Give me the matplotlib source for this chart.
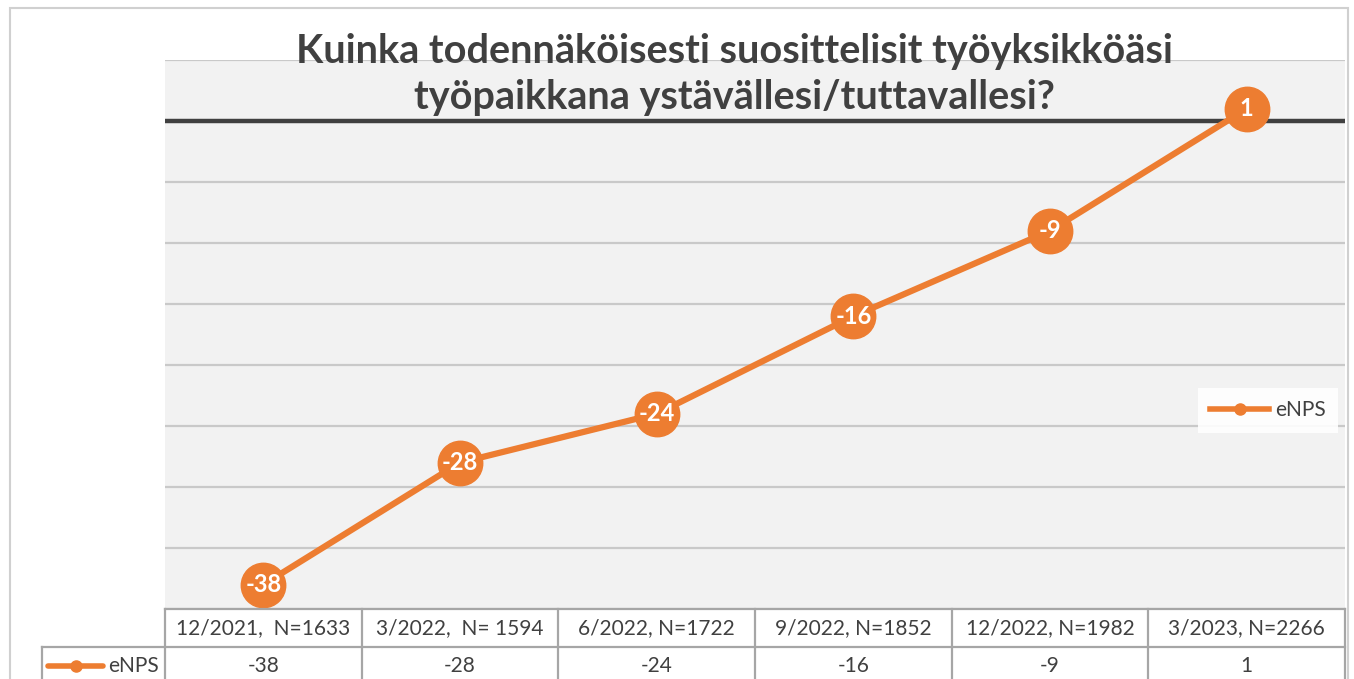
import matplotlib
matplotlib.use("Agg")
import matplotlib.pyplot as plt
from matplotlib.lines import Line2D
from matplotlib.patches import Rectangle

categories = ["12/2021,  N=1633", "3/2022,  N= 1594", "6/2022, N=1722",
              "9/2022, N=1852", "12/2022, N=1982", "3/2023, N=2266"]
enps = [-38, -28, -24, -16, -9, 1]
series_name = "eNPS"
title = "Kuinka todennäköisesti suosittelisit työyksikköäsi\ntyöpaikkana ystävällesi/tuttavallesi?"

W, H = 1354, 679
orange = "#ED7D31"
dark = "#404040"
grid_c = "#c9c9c9"
table_c = "#a6a6a6"

plt.rcParams['font.family'] = ['Lato', 'DejaVu Sans']

fig = plt.figure(figsize=(W / 100, H / 100), dpi=100)
fig.patch.set_facecolor("white")


def rect(x0, y0, x1, y1):
    # pixel box (top-left origin) -> figure fraction
    return [x0 / W, 1 - y1 / H, (x1 - x0) / W, (y1 - y0) / H]


# chart border
fig.patches.append(Rectangle((10 / W, -0.1), (1348 - 10) / W, 1 - 8 / H + 0.1,
                             transform=fig.transFigure, fill=False,
                             edgecolor="#d0d0d0", lw=1.5))

ax = fig.add_axes(rect(165, 60, 1345, 609))
ax.set_facecolor("#f2f2f2")
x = list(range(len(categories)))
ax.set_xlim(-0.5, len(categories) - 0.5)
ax.set_ylim(-40, 5)
ax.set_yticks(range(-40, 6, 5))
ax.set_xticks([])
ax.tick_params(left=False, labelleft=False)
ax.grid(axis="y", color=grid_c, lw=1.6)
ax.set_axisbelow(True)
for s in ax.spines.values():
    s.set_visible(False)
ax.axhline(0, color=dark, lw=3.2, zorder=1.5)

ax.plot(x, enps, color=orange, lw=4.5, marker="o", ms=32, zorder=3, clip_on=False)
for i, v in zip(x, enps):
    ax.text(i, v, str(v), ha="center", va="center", color="white",
            fontsize=17, fontweight="bold", zorder=4)

handle = Line2D([], [], color=orange, lw=4, marker="o", ms=8)
leg = ax.legend([handle], [series_name], loc="center",
                bbox_to_anchor=(1268 / W, 1 - 410 / H), bbox_transform=fig.transFigure,
                frameon=True, fancybox=False, framealpha=0.9, edgecolor="none",
                fontsize=15, handlelength=2.8, handletextpad=0.3,
                labelcolor=dark, borderpad=0.6)

fig.text(734 / W, 1 - 75 / H, title, ha="center", va="center", fontsize=28.5,
         fontweight="bold", color=dark, linespacing=1.3)

# data table under the chart
tab = fig.add_axes(rect(165, 609, 1345, 685))
tab.set_xlim(-0.5, len(categories) - 0.5)
tab.set_ylim(0, 2)
tab.axis("off")
left = (42 - 165) / (1180 / 6) - 0.5
kw = dict(color=table_c, lw=1.6, clip_on=False)
tab.plot([-0.5, len(categories) - 0.5], [2, 2], **kw)
tab.plot([left, len(categories) - 0.5], [1, 1], **kw)
tab.plot([left, len(categories) - 0.5], [0, 0], **kw)
for i in range(len(categories) + 1):
    tab.plot([i - 0.5, i - 0.5], [0, 2], **kw)
tab.plot([left, left], [0, 1], **kw)
for i, (c, v) in enumerate(zip(categories, enps)):
    tab.text(i, 1.5, c, ha="center", va="center", fontsize=15, color=dark)
    tab.text(i, 0.5, str(v), ha="center", va="center", fontsize=15, color=dark)

def px(p):
    return (p - 165) / (1180 / 6) - 0.5

tab.plot([px(48), px(103)], [0.5, 0.5], color=orange, lw=4, clip_on=False,
         solid_capstyle="round")
tab.plot([px(76)], [0.5], color=orange, marker="o", ms=8, clip_on=False)
tab.text(px(159), 0.5, series_name, ha="right", va="center", fontsize=15, color=dark)

fig.savefig("out.png", dpi=100)
